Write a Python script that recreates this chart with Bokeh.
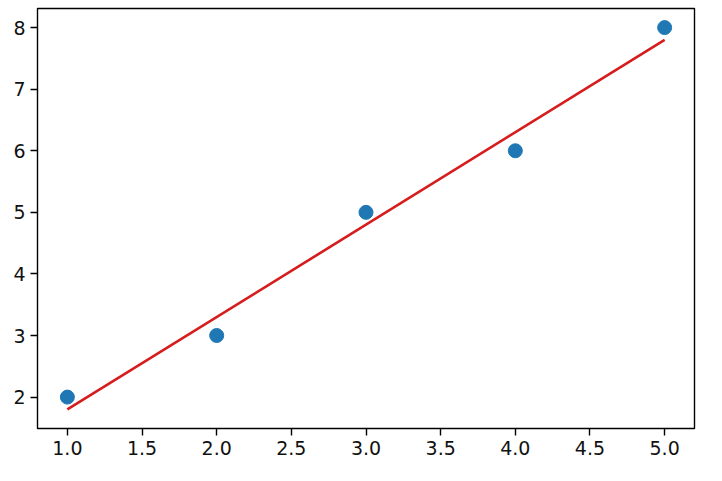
from bokeh.plotting import figure
from bokeh.models import FixedTicker, Range1d, PrintfTickFormatter
from bokeh.embed import file_html
from bokeh.resources import INLINE

# data
x_vals = [1, 2, 3, 4, 5]
y_vals = [2, 3, 5, 6, 8]
fit_x = [1, 5]
fit_y = [1.8, 7.8]
x_ticks = [1.0, 1.5, 2.0, 2.5, 3.0, 3.5, 4.0, 4.5, 5.0]
y_ticks = [2, 3, 4, 5, 6, 7, 8]

p = figure(width=706, height=465, output_backend="svg", toolbar_location=None,
           x_range=Range1d(0.8, 5.2), y_range=Range1d(1.49, 8.31),
           min_border_left=37, min_border_right=12, min_border_top=8, min_border_bottom=37)
p.background_fill_color = "white"
p.border_fill_color = "white"
p.outline_line_color = "black"
p.outline_line_width = 1.4
p.xgrid.visible = False
p.ygrid.visible = False

p.line(fit_x, fit_y, line_color="#d61c1c", line_width=2.6)
p.scatter(x_vals, y_vals, size=14, fill_color="#1f77b4", line_color="#1f77b4")

for ax in (p.xaxis[0], p.yaxis[0]):
    ax.axis_line_color = None
    ax.major_tick_line_color = "black"
    ax.major_tick_line_width = 1.4
    ax.major_tick_out = 7
    ax.major_tick_in = 0
    ax.minor_tick_line_color = None
    ax.major_label_text_font = "DejaVu Sans"
    ax.major_label_text_font_size = "19px"
    ax.major_label_text_color = "#111111"
    ax.major_label_standoff = 5

p.xaxis[0].ticker = FixedTicker(ticks=x_ticks)
p.xaxis[0].formatter = PrintfTickFormatter(format="%.1f")
p.yaxis[0].ticker = FixedTicker(ticks=y_ticks)

open("out.html", "w").write(file_html(p, INLINE))
